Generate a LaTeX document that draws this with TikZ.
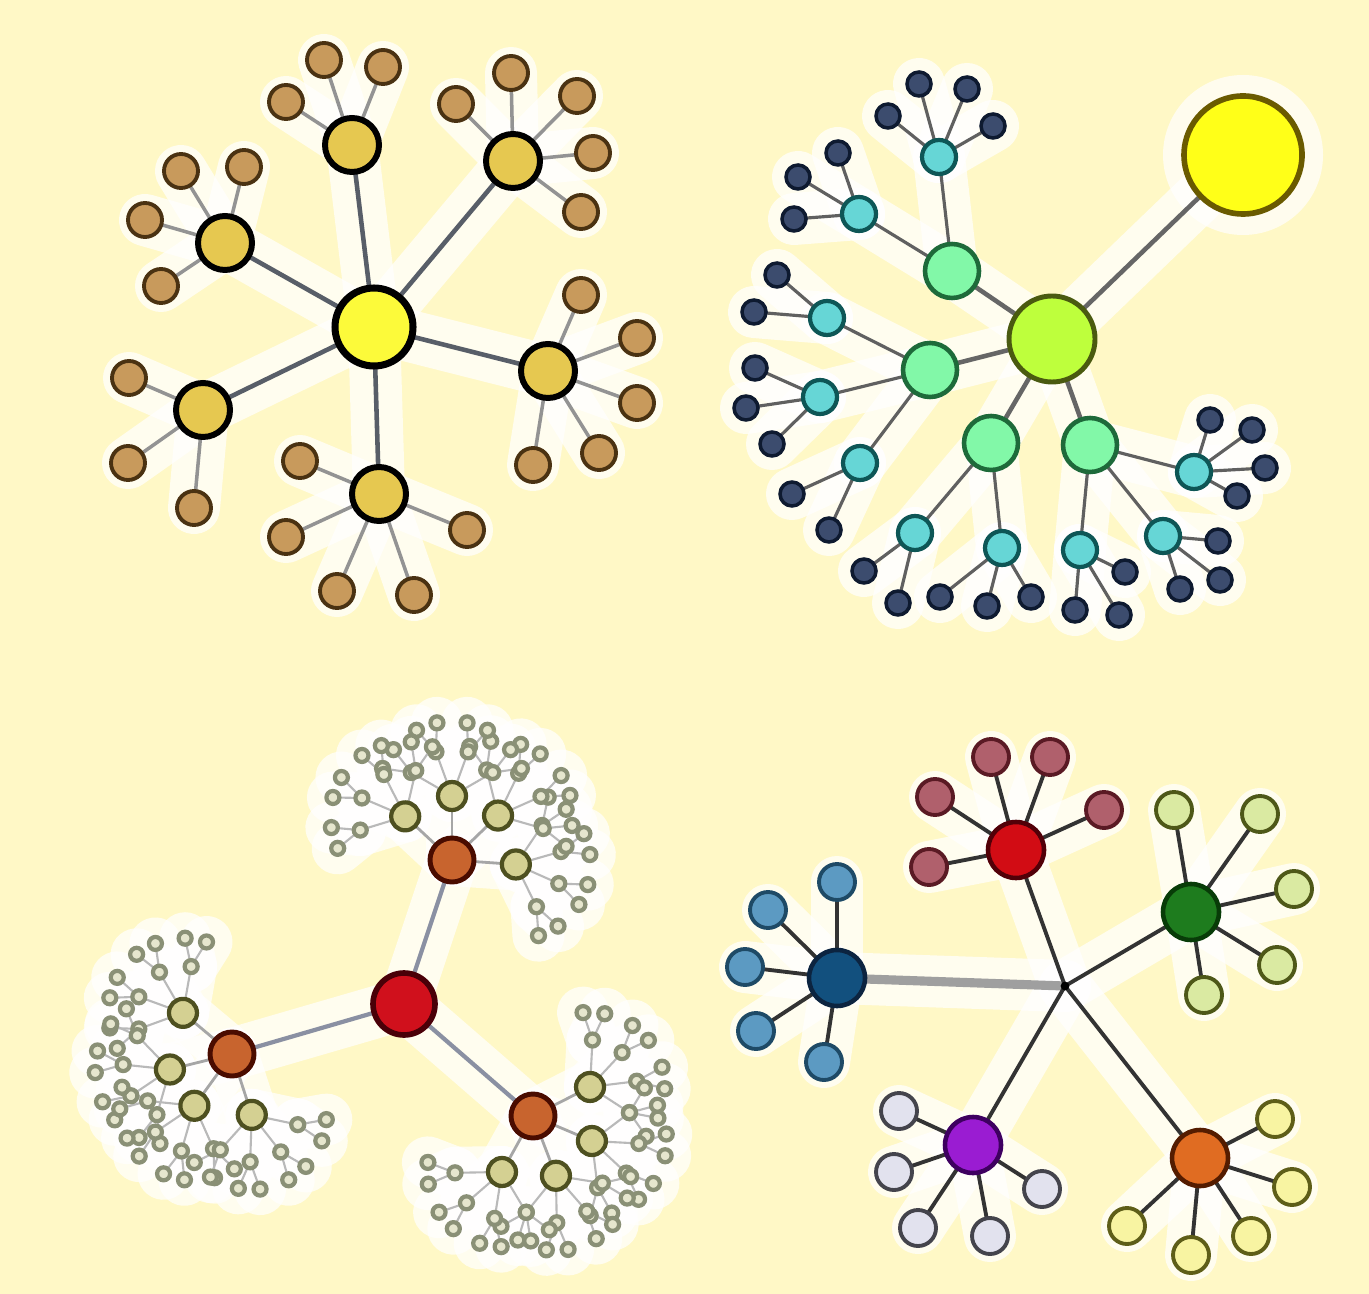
\documentclass[tikz,border=0pt]{standalone}
\usetikzlibrary{calc}

\definecolor{bgcream}{HTML}{FFF8C6}
\definecolor{yellowA}{HTML}{FCFA3A}
\definecolor{goldA}{HTML}{E6C850}
\definecolor{brownA}{HTML}{C89A5C}
\definecolor{brownAd}{HTML}{4A3212}
\definecolor{sunB}{HTML}{FFFF18}
\definecolor{sunBd}{HTML}{6A5A00}
\definecolor{limeB}{HTML}{BEFF3C}
\definecolor{limeBd}{HTML}{4A5A10}
\definecolor{mintB}{HTML}{82F8A8}
\definecolor{mintBd}{HTML}{1E6A3A}
\definecolor{cyanB}{HTML}{66D6D6}
\definecolor{cyanBd}{HTML}{0E5656}
\definecolor{navyB}{HTML}{3C4C6E}
\definecolor{navyBd}{HTML}{0E1A30}
\definecolor{redC}{HTML}{D0101C}
\definecolor{redCd}{HTML}{4A0008}
\definecolor{orangeC}{HTML}{C8642E}
\definecolor{orangeCd}{HTML}{4A0C00}
\definecolor{oliveC}{HTML}{D4D092}
\definecolor{oliveCd}{HTML}{4E5020}
\definecolor{tinyC}{HTML}{E6E6CE}
\definecolor{tinyCd}{HTML}{8A9076}
\definecolor{edgegray}{HTML}{585E68}
\definecolor{edgeblue}{HTML}{8A90A2}

\pgfdeclarelayer{bg}
\pgfdeclarelayer{halo}
\pgfdeclarelayer{edges}
\pgfsetlayers{bg,halo,edges,main}

\tikzset{
  dot/.style={circle, draw, inner sep=0pt},
  haloline/.style={draw=white, line width=0.52cm, line cap=round, opacity=0.72},
  rootA/.style={dot, minimum size=0.78cm, fill=yellowA, draw=black, line width=2pt},
  midA/.style={dot, minimum size=0.54cm, fill=goldA, draw=black, line width=1.7pt},
  leafA/.style={dot, minimum size=0.34cm, fill=brownA, draw=brownAd, line width=1.1pt},
  edgeA/.style={draw=edgegray, line width=1.3pt},
  twigA/.style={draw=gray!85, line width=1pt},
  sunB/.style={dot, minimum size=1.18cm, fill=sunB, draw=sunBd, line width=1.6pt},
  rootB/.style={dot, minimum size=0.86cm, fill=limeB, draw=limeBd, line width=1.4pt},
  midB/.style={dot, minimum size=0.54cm, fill=mintB, draw=mintBd, line width=1.3pt},
  cyanB/.style={dot, minimum size=0.34cm, fill=cyanB, draw=cyanBd, line width=1.2pt},
  navyB/.style={dot, minimum size=0.24cm, fill=navyB, draw=navyBd, line width=1pt},
  edgeB/.style={draw=gray!80!black, line width=1.3pt},
  twigB/.style={draw=gray!75!black, line width=0.9pt},
  rootC/.style={dot, minimum size=0.62cm, fill=redC, draw=redCd, line width=1.6pt},
  midC/.style={dot, minimum size=0.44cm, fill=orangeC, draw=orangeCd, line width=1.4pt},
  oliveC/.style={dot, minimum size=0.28cm, fill=oliveC, draw=oliveCd, line width=1.2pt},
  tinyC/.style={dot, minimum size=0.13cm, fill=tinyC, draw=tinyCd, line width=1.2pt},
  edgeC/.style={draw=edgeblue, line width=1.2pt},
  twigC/.style={draw=gray!70, line width=0.8pt},
  hairC/.style={draw=gray!55, line width=0.6pt},
  hubD/.style={circle, fill=black, inner sep=0pt, minimum size=2.5pt},
  mainD/.style 2 args={dot, minimum size=0.56cm, fill=#1, draw=#2, line width=1.3pt},
  leafD/.style 2 args={dot, minimum size=0.36cm, fill=#1, draw=#2, line width=1.1pt},
  edgeD/.style={draw=gray!40!black, line width=1.1pt},
  axleD/.style={draw=gray!75, line width=2.6pt},
  % same connectors, drawn as white halo
  halomode/.style={edgeA/.style={haloline}, twigA/.style={haloline},
    edgeB/.style={haloline}, twigB/.style={haloline},
    edgeC/.style={haloline}, twigC/.style={haloline}, hairC/.style={haloline},
    edgeD/.style={haloline}, axleD/.style={haloline}},
}

\begin{document}
\begin{tikzpicture}
\useasboundingbox (0,0) rectangle (13.69,-12.94);
\begin{pgfonlayer}{bg}
  \fill[bgcream] (0,0) rectangle (13.69,-12.94);
\end{pgfonlayer}

% top left tree
\node[rootA] (A) at (3.74,-3.27) {};
\foreach \n/\x/\y in {1/2.25/2.43, 2/3.52/1.45, 3/5.13/1.61, 4/5.48/3.71, 5/3.79/4.94, 6/2.03/4.10}
  \node[midA] (A\n) at (\x,-\y) {};
\foreach \x/\y [count=\i] in {1.45/2.20, 1.81/1.71, 2.44/1.67, 1.61/2.86,
    2.86/1.02, 3.24/0.60, 3.83/0.67,
    4.56/1.04, 5.11/0.73, 5.77/0.96, 5.93/1.53, 5.81/2.12,
    5.81/2.95, 6.37/3.38, 6.37/4.03, 5.99/4.53, 5.33/4.65,
    3.00/4.61, 2.86/5.37, 3.37/5.91, 4.14/5.95, 4.67/5.30,
    1.29/3.78, 1.28/4.63, 1.94/5.08}
  \node[leafA] (Al\i) at (\x,-\y) {};

% top right tree
\node[sunB] (Bs) at (12.43,-1.55) {};
\node[rootB] (B) at (10.52,-3.39) {};
\foreach \n/\x/\y in {1/9.52/2.71, 2/9.30/3.70, 3/9.91/4.43, 4/10.90/4.45}
  \node[midB] (B\n) at (\x,-\y) {};
\foreach \x/\y [count=\k] in {9.39/1.57, 8.59/2.14, 8.27/3.18, 8.20/3.97,
    8.60/4.63, 9.15/5.33, 10.02/5.48, 10.80/5.50, 11.63/5.36, 11.94/4.72}
  \node[cyanB] (Bt\k) at (\x,-\y) {};
\foreach \x/\y [count=\i] in {9.19/0.84, 9.67/0.89, 8.88/1.16, 9.93/1.26,
    8.38/1.53, 7.98/1.77, 7.94/2.19, 7.77/2.75, 7.54/3.12,
    7.55/3.68, 7.46/4.08, 7.72/4.44, 7.92/4.94, 8.29/5.30,
    8.64/5.71, 8.98/6.03, 9.40/5.97, 9.87/6.06, 10.31/5.97,
    10.75/6.10, 11.19/6.15, 11.25/5.72, 11.80/5.89, 12.20/5.80, 12.18/5.41,
    12.10/4.20, 12.52/4.30, 12.65/4.68, 12.37/4.96}
  \node[navyB] (Bd\i) at (\x,-\y) {};

% bottom left tree
\node[rootC] (C) at (4.04,-10.04) {};
\foreach \o/\x/\y in {1/4.52/8.60, 2/2.32/10.54, 3/5.33/11.16}
  \node[midC] (C\o) at (\x,-\y) {};
\foreach \o/\angs in {1/{-4,44,90,137}, 2/{140,194,234,288}, 3/{27,-23,-69,-119}} {
  \foreach \ang [count=\k] in \angs {
    \node[oliveC] (C\o-\k) at ($(C\o)+(\ang:0.64)$) {};
    \foreach \d [count=\j] in {0,40,80,120} {
      \node[tinyC] (C\o-\k-\j) at ($(C\o-\k)+(\ang-60+\d:0.47)$) {};
      \foreach \e [count=\m] in {0,44}
        \node[tinyC] (C\o-\k-\j-\m) at ($(C\o-\k-\j)+(\ang-82+\d+\e:0.29)$) {};
    }
  }
}

% bottom right tree
\node[hubD] (H) at (10.65,-9.86) {};
\foreach \n/\f/\b/\x/\y in {b/12507E/0C2440/8.37/9.78, r/D20C14/520008/10.16/8.50,
    g/1E7C1E/083C08/11.91/9.12, p/9A1CD2/3E0060/9.73/11.45, o/E06C22/541C00/12.00/11.58} {
  \definecolor{fD}{HTML}{\f}\definecolor{bD}{HTML}{\b}
  \node[mainD={fD}{bD}] (D\n) at (\x,-\y) {};
}
\foreach \f/\b/\x/\y [count=\i] in {
    5C9AC2/1E4A66/8.37/8.82, 5C9AC2/1E4A66/7.68/9.10, 5C9AC2/1E4A66/7.45/9.67,
    5C9AC2/1E4A66/7.56/10.31, 5C9AC2/1E4A66/8.24/10.62,
    B0606C/5A1A24/9.91/7.57, B0606C/5A1A24/10.50/7.57, B0606C/5A1A24/9.35/7.97,
    B0606C/5A1A24/11.04/8.10, B0606C/5A1A24/9.29/8.67,
    DAEAA2/4E5818/11.74/8.10, DAEAA2/4E5818/12.60/8.14, DAEAA2/4E5818/12.94/8.89,
    DAEAA2/4E5818/12.77/9.65, DAEAA2/4E5818/12.04/9.95,
    E2E2EE/44444C/8.99/11.11, E2E2EE/44444C/8.94/11.72, E2E2EE/44444C/9.18/12.28,
    E2E2EE/44444C/9.90/12.36, E2E2EE/44444C/10.42/11.89,
    F8F4A2/5E5E18/12.75/11.19, F8F4A2/5E5E18/12.92/11.87, F8F4A2/5E5E18/12.51/12.36,
    F8F4A2/5E5E18/11.91/12.55, F8F4A2/5E5E18/11.27/12.26} {
  \definecolor{fD}{HTML}{\f}\definecolor{bD}{HTML}{\b}
  \node[leafD={fD}{bD}] (Dl\i) at (\x,-\y) {};
}

% connectors, drawn once as white halo and once as lines
\newcommand{\connectors}{%
  \foreach \n in {1,...,6} \draw[edgeA] (A.center) -- (A\n.center);
  \foreach \p [count=\i] in {1,1,1,1,2,2,2,3,3,3,3,3,4,4,4,4,4,5,5,5,5,5,6,6,6}
    \draw[twigA] (A\p.center) -- (Al\i.center);
  \draw[edgeB] (B.center) -- (Bs.center);
  \foreach \n in {1,...,4} \draw[edgeB] (B.center) -- (B\n.center);
  \foreach \p [count=\k] in {1,1,2,2,2,3,3,4,4,4}
    \draw[twigB] (B\p.center) -- (Bt\k.center);
  \foreach \p [count=\i] in {1,1,1,1,2,2,2,3,3,4,4,4,5,5,6,6,7,7,7,8,8,8,9,9,9,10,10,10,10}
    \draw[twigB] (Bt\p.center) -- (Bd\i.center);
  \foreach \o in {1,2,3} {
    \draw[edgeC] (C.center) -- (C\o.center);
    \foreach \k in {1,...,4} {
      \draw[twigC] (C\o.center) -- (C\o-\k.center);
      \foreach \j in {1,...,4} {
        \draw[hairC] (C\o-\k.center) -- (C\o-\k-\j.center);
        \foreach \m in {1,2}
          \draw[hairC] (C\o-\k-\j.center) -- (C\o-\k-\j-\m.center);
      }
    }
  }
  \draw[axleD] (H.center) -- (Db.center);
  \foreach \n in {r,g,p,o} \draw[edgeD] (H.center) -- (D\n.center);
  \foreach \n [count=\i] in {b,b,b,b,b,r,r,r,r,r,g,g,g,g,g,p,p,p,p,p,o,o,o,o,o}
    \draw[edgeD] (D\n.center) -- (Dl\i.center);
}
\begin{pgfonlayer}{halo}
  \fill[white, opacity=0.7] (Bs) circle (0.8);
  \begin{scope}[halomode]\connectors\end{scope}
\end{pgfonlayer}
\begin{pgfonlayer}{edges}
  \connectors
\end{pgfonlayer}
\end{tikzpicture}
\end{document}
